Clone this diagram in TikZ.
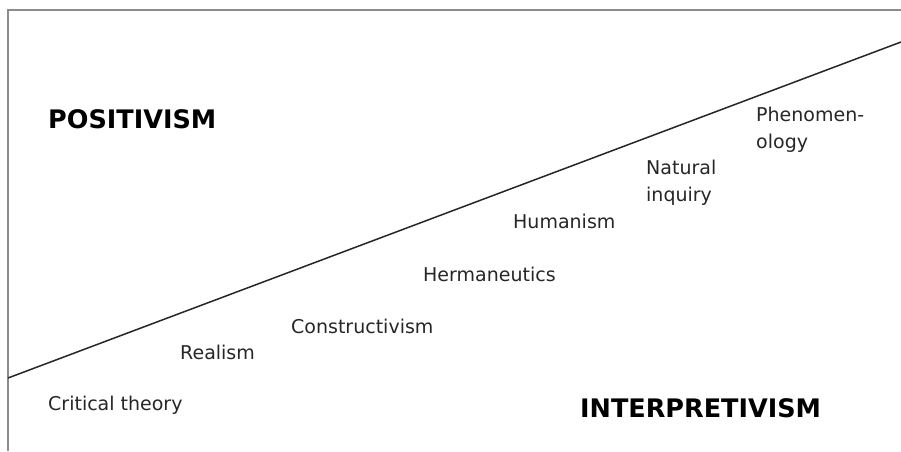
\documentclass[tikz,border=0pt]{standalone}
\usepackage{fontspec}
\setmainfont{DejaVu Sans}
\begin{document}
\begin{tikzpicture}[x=1pt,y=-1pt,
  lbl/.style={anchor=base west,inner sep=0pt,text=black!85,font=\fontsize{19}{27}\selectfont,align=left},
  big/.style={anchor=base west,inner sep=0pt,text=black,font=\fontsize{25.5}{30}\selectfont\bfseries},
  frame/.style={draw=black!45,line width=1.4pt},
  divider/.style={draw=black!85,line width=1.5pt}]
\useasboundingbox (0,0) rectangle (901,451);
\coordinate (tl) at (8,10);
\coordinate (tr) at (901,10);
\coordinate (bl) at (8,451);
\draw[frame] (tr) -- (tl) -- (bl);
\coordinate (dA) at (8,378);
\coordinate (dB) at (901,42);
\draw[divider] (dA) -- (dB);
\node[big] (pos) at (48,128) {POSITIVISM};
\node[big] (int) at (580,417) {INTERPRETIVISM};
\node[lbl] (crit) at (48,410) {Critical theory};
\node[lbl] (real) at (180,359) {Realism};
\node[lbl] (cons) at (291,333) {Constructivism};
\node[lbl] (herm) at (423,281) {Hermaneutics};
\node[lbl] (hum) at (513,228) {Humanism};
\node[lbl] (nat) at (646,201) {Natural\\inquiry};
\node[lbl] (phen) at (756,148) {Phenomen-\\ology};
\end{tikzpicture}
\end{document}
